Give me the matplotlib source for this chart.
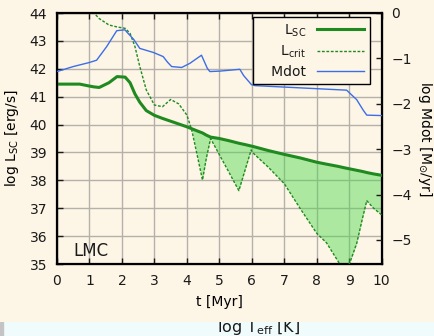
import matplotlib
matplotlib.use("Agg")
import matplotlib.pyplot as plt
import matplotlib.patches as pth
import numpy as np

# time grid shared by L_SC and L_crit [Myr]
t = np.array([0, 0.7, 1.0, 1.14, 1.3, 1.6, 1.85, 2.1, 2.25, 2.4, 2.55, 2.75,
              3.0, 3.25, 3.5, 3.75, 4.0, 4.15, 4.3, 4.48, 4.6, 4.73, 5.0, 5.3,
              5.6, 5.8, 5.98, 6.02, 6.5, 7.0, 7.5, 8.0, 8.3, 8.66, 8.85, 9.02,
              9.23, 9.4, 9.54, 9.75, 10.0])
l_sc = np.array([41.45, 41.45, 41.38, 41.35, 41.33, 41.5, 41.72, 41.7, 41.5,
                 41.1, 40.8, 40.5, 40.33, 40.22, 40.12, 40.02, 39.92, 39.85,
                 39.78, 39.7, 39.62, 39.55, 39.5, 39.42, 39.33, 39.28, 39.23,
                 39.22, 39.07, 38.93, 38.8, 38.65, 38.58, 38.5, 38.45, 38.41,
                 38.36, 38.32, 38.28, 38.23, 38.18])
l_crit = np.array([np.nan, np.nan, 44.35, 44.0, 43.8, 43.57, 43.5, 43.45,
                   43.27, 42.8, 42.08, 41.24, 40.7, 40.64, 40.9, 40.74, 40.34,
                   39.8, 39.0, 38.01, 38.8, 39.5, 38.92, 38.28, 37.63, 38.4,
                   39.09, 39.0, 38.48, 37.88, 36.97, 36.1, 35.76, 35.09, 34.7,
                   35.05, 35.74, 36.6, 37.27, 37.0, 36.76])

# mass loss rate, log Msun/yr
t_mdot = np.array([0, 0.5, 1.0, 1.22, 1.53, 1.84, 2.09, 2.19, 2.36, 2.55,
                   2.97, 3.27, 3.4, 3.53, 3.84, 4.09, 4.45, 4.63, 4.71, 5.02,
                   5.63, 5.75, 5.99, 6.1, 8.92, 9.23, 9.43, 9.54, 10.0])
mdot = np.array([-1.29, -1.18, -1.09, -1.04, -0.74, -0.39, -0.37, -0.45, -0.58,
                 -0.78, -0.87, -0.96, -1.08, -1.18, -1.2, -1.11, -0.93, -1.22,
                 -1.29, -1.28, -1.24, -1.38, -1.58, -1.6, -1.70, -1.91, -2.14,
                 -2.25, -2.26])

cream = '#fdf5e6'
txt = '#1a1a1a'
plt.rcParams['font.family'] = ['DejaVu Sans']
plt.rcParams['font.size'] = 10
plt.rcParams['text.color'] = txt
plt.rcParams['xtick.color'] = txt
plt.rcParams['ytick.color'] = txt

fig = plt.figure(figsize=(4.34, 3.36), dpi=100, facecolor=cream)
ax = fig.add_axes([57/434, 1 - 264/336, 324.7/434, 251/336])
ax.set_facecolor(cream)

lc = np.nan_to_num(l_crit, nan=99)
ax.fill_between(t, lc, l_sc, where=lc < l_sc, interpolate=True,
                color='#4cd94c', alpha=0.45, lw=0, zorder=1)
ln1, = ax.plot(t, l_sc, color='#1f8a1f', lw=2.2, zorder=3,
               label='     L$_{\\rm SC}$')
ln2, = ax.plot(t, l_crit, color='#1f8a1f', lw=1.0, ls=(0, (2, 1.2)), zorder=3,
               label='    L$_{\\rm crit}$')

ax.set_xlim(0, 10)
ax.set_ylim(35, 44)
ax.set_xticks(range(0, 11))
ax.set_yticks(range(35, 45))
ax.grid(True, color='#b4b0aa', lw=1.0, zorder=0)
ax.set_axisbelow(True)
ax.tick_params(direction='in', top=True, right=False, length=4, width=1,
               labelsize=10, pad=7)
for s in ax.spines.values():
    s.set_linewidth(1.6)
    s.set_color('black')
ax.set_xlabel('t [Myr]', labelpad=5)
ax.set_ylabel('log L$_{\\rm SC}$ [erg/s]', labelpad=6)
ax.text(0.05, 0.015, 'LMC', transform=ax.transAxes, fontsize=12, va='bottom')

ax2 = ax.twinx()
ln3, = ax2.plot(t_mdot, mdot, color='#3c6ee6', lw=1.0, label='   Mdot', zorder=3)
ax2.set_ylim(-5.53, 0)
ax2.set_yticks(range(-5, 1))
ax2.tick_params(direction='in', length=4, width=1, labelsize=10, pad=7)
ax2.set_ylabel('log Mdot [M$_{\\odot}$/yr]', rotation=270, labelpad=16)

leg = ax2.legend(handles=[ln1, ln2, ln3], loc='upper right',
                 bbox_to_anchor=(0.964, 0.985), borderaxespad=0,
                 markerfirst=False, fancybox=False, framealpha=1,
                 facecolor=cream, edgecolor='black', handlelength=3.4,
                 labelspacing=0.35, fontsize=10)
leg.get_frame().set_linewidth(1.0)

# cut-off strip at the bottom
strip = fig.add_axes([0, 0, 1, 14/336])
strip.set_xlim(0, 1)
strip.set_ylim(0, 1)
strip.axis('off')
strip.add_patch(pth.Rectangle((0, 0), 1, 1, transform=strip.transAxes,
                              color='#f0fcfc', zorder=0))
strip.add_patch(pth.Rectangle((0, 0), 3/434, 1, transform=strip.transAxes,
                              color='#c4c4c4', zorder=1))
strip.text(259/434, 0.286, 'log T$_{\\rm eff}$ [K]', ha='center', va='baseline',
           fontsize=11.5, clip_on=True, color=txt)

fig.savefig('out.png', dpi=100, facecolor=cream)
